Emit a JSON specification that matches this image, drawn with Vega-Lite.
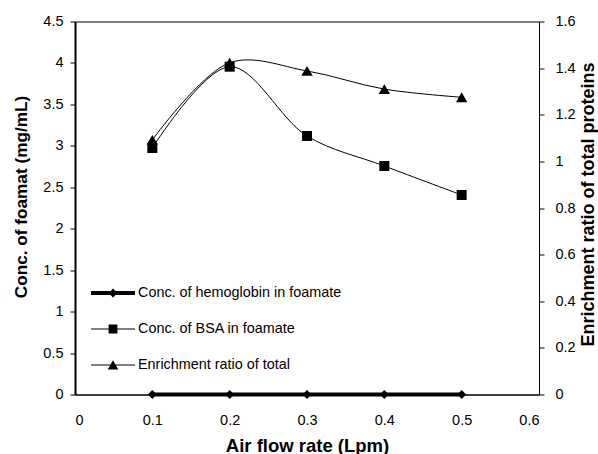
{
  "$schema": "https://vega.github.io/schema/vega-lite/v6.json",
  "width": 464,
  "height": 373,
  "autosize": "none",
  "padding": {"left": 75, "top": 21.5, "right": 59, "bottom": 59.5},
  "background": "white",
  "config": {
    "font": "Liberation Sans",
    "view": {"stroke": "black", "strokeWidth": 1},
    "axis": {
      "labelFont": "Liberation Sans",
      "labelFontSize": 14.5,
      "labelColor": "black",
      "titleFont": "Liberation Sans",
      "titleFontWeight": "bold",
      "titleColor": "black",
      "domainColor": "black",
      "tickColor": "black",
      "grid": false
    }
  },
  "data": {
    "values": [
      {"x": 0.1, "series": "Conc. of hemoglobin in foamate", "value": 0},
      {"x": 0.2, "series": "Conc. of hemoglobin in foamate", "value": 0},
      {"x": 0.3, "series": "Conc. of hemoglobin in foamate", "value": 0},
      {"x": 0.4, "series": "Conc. of hemoglobin in foamate", "value": 0},
      {"x": 0.5, "series": "Conc. of hemoglobin in foamate", "value": 0},
      {"x": 0.1, "series": "Conc. of BSA in foamate", "value": 2.974},
      {"x": 0.2, "series": "Conc. of BSA in foamate", "value": 3.955},
      {"x": 0.3, "series": "Conc. of BSA in foamate", "value": 3.119},
      {"x": 0.4, "series": "Conc. of BSA in foamate", "value": 2.757},
      {"x": 0.5, "series": "Conc. of BSA in foamate", "value": 2.407},
      {"x": 0.1, "series": "Enrichment ratio of total", "value": 1.092},
      {"x": 0.2, "series": "Enrichment ratio of total", "value": 1.423},
      {"x": 0.3, "series": "Enrichment ratio of total", "value": 1.388},
      {"x": 0.4, "series": "Enrichment ratio of total", "value": 1.31},
      {"x": 0.5, "series": "Enrichment ratio of total", "value": 1.275}
    ]
  },
  "encoding": {
    "x": {
      "field": "x",
      "type": "quantitative",
      "scale": {"domain": [0, 0.6], "nice": false, "zero": false},
      "axis": {
        "values": [0, 0.1, 0.2, 0.3, 0.4, 0.5, 0.6],
        "format": "~g",
        "title": "Air flow rate (Lpm)",
        "ticks": false,
        "labelPadding": 18.5,
        "titleFontSize": 18.5,
        "titleY": 56.5,
        "titleBaseline": "alphabetic",
        "domainWidth": 1
      }
    }
  },
  "layer": [
    {
      "encoding": {
        "y": {
          "field": "value",
          "type": "quantitative",
          "scale": {"domain": [0, 4.5], "nice": false},
          "axis": {
            "orient": "left",
            "values": [0, 0.5, 1, 1.5, 2, 2.5, 3, 3.5, 4, 4.5],
            "format": "~g",
            "title": "Conc. of foamat (mg/mL)",
            "titleFontSize": 17.2,
            "titleAngle": -90,
            "titleX": -48.5,
            "titleY": 175,
            "titleAlign": "center",
            "titleBaseline": "alphabetic",
            "tickSize": 5,
            "labelPadding": 7,
            "domainWidth": 2
          }
        }
      },
      "layer": [
        {
          "transform": [{"filter": "datum.series === 'Conc. of hemoglobin in foamate'"}],
          "mark": {"type": "line", "color": "black", "strokeWidth": 3.8}
        },
        {
          "transform": [{"filter": "datum.series === 'Conc. of BSA in foamate'"}],
          "mark": {"type": "line", "color": "black", "strokeWidth": 1, "interpolate": "catmull-rom"}
        },
        {
          "transform": [{"filter": "datum.series === 'Conc. of hemoglobin in foamate'"}],
          "mark": {"type": "point", "shape": "diamond", "filled": true, "color": "black", "opacity": 1, "size": 81}
        },
        {
          "transform": [{"filter": "datum.series === 'Conc. of BSA in foamate'"}],
          "mark": {"type": "point", "shape": "square", "filled": true, "color": "black", "opacity": 1, "size": 100}
        },
        {
          "mark": {"type": "point", "filled": true, "color": "black", "opacity": 0},
          "encoding": {
            "shape": {
              "field": "series",
              "type": "nominal",
              "scale": {
                "domain": ["Conc. of hemoglobin in foamate", "Conc. of BSA in foamate", "Enrichment ratio of total"],
                "range": [
                  "M-1,-0.09H1V0.09H-1ZM0,-0.2L0.2,0L0,0.2L-0.2,0Z",
                  "M-1,-0.025H1V0.025H-1ZM-0.2,-0.2H0.2V0.2H-0.2Z",
                  "M-1,-0.025H1V0.025H-1ZM0,-0.22L0.24,0.2H-0.24Z"
                ]
              },
              "legend": {
                "orient": "none",
                "legendX": 16,
                "legendY": 249.5,
                "title": null,
                "padding": 0,
                "symbolSize": 1936,
                "symbolStrokeWidth": 0,
                "symbolFillColor": "black",
                "symbolOpacity": 1,
                "labelFont": "Liberation Sans",
                "labelFontSize": 14.4,
                "labelColor": "black",
                "labelOffset": 3,
                "labelLimit": 300,
                "rowPadding": 7
              }
            }
          }
        }
      ]
    },
    {
      "transform": [{"filter": "datum.series === 'Enrichment ratio of total'"}],
      "encoding": {
        "y": {
          "field": "value",
          "type": "quantitative",
          "scale": {"domain": [0, 1.6], "nice": false},
          "axis": {
            "orient": "right",
            "values": [0, 0.2, 0.4, 0.6, 0.8, 1, 1.2, 1.4, 1.6],
            "format": "~g",
            "title": "Enrichment ratio of total proteins",
            "titleFontSize": 18,
            "titleAngle": -90,
            "titleX": 54,
            "titleY": 182.5,
            "titleAlign": "center",
            "titleBaseline": "alphabetic",
            "tickSize": 5,
            "labelPadding": 11,
            "domainWidth": 1
          }
        }
      },
      "layer": [
        {"mark": {"type": "line", "color": "black", "strokeWidth": 1, "interpolate": "catmull-rom"}},
        {"mark": {"type": "point", "shape": "triangle-up", "filled": true, "color": "black", "opacity": 1, "size": 130}}
      ]
    }
  ],
  "resolve": {"scale": {"y": "independent"}}
}
